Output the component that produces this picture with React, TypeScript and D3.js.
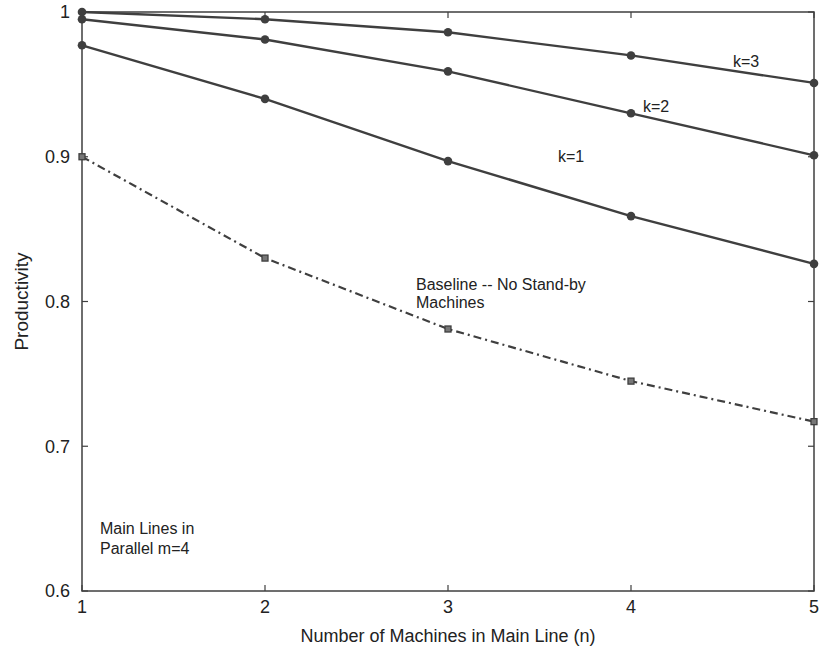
import React from 'react';
import * as d3 from 'd3';

// machines in main line
const machines = [1, 2, 3, 4, 5];

// productivity for k stand-by machines
const k1 = [0.977, 0.940, 0.897, 0.859, 0.826];
const k2 = [0.995, 0.981, 0.959, 0.930, 0.901];
const k3 = [1.0, 0.995, 0.986, 0.970, 0.951];
const baseline = [0.900, 0.830, 0.781, 0.745, 0.717];

const xTicks = [1, 2, 3, 4, 5];
const yTicks = [0.6, 0.7, 0.8, 0.9, 1];

const W = 821, H = 659;
const margin = { top: 12, right: 7, bottom: 68, left: 82 };
const ink = '#3f3f3f';
const font = '"Liberation Sans", Arial, Helvetica, sans-serif';

export default function App() {
  const x = d3.scaleLinear().domain([1, 5]).range([margin.left, W - margin.right]);
  const y = d3.scaleLinear().domain([0.6, 1]).range([H - margin.bottom, margin.top]);

  const line = d3.line<number>()
    .x((d, i) => x(machines[i]))
    .y(d => y(d));

  const solid = [k1, k2, k3];
  const x0 = x(1), x1 = x(5), y0 = y(0.6), y1 = y(1);
  const tk = 6;

  return (
    <svg width={W} height={H} style={{ position: 'absolute', left: 0, top: 0, background: '#fff' }}
      fontFamily={font}>
      {/* frame */}
      <rect x={x0} y={y1} width={x1 - x0} height={y0 - y1} fill="none" stroke={ink} strokeWidth={1.5} />

      {/* ticks */}
      {xTicks.map(t => (
        <g key={'x' + t}>
          <line x1={x(t)} x2={x(t)} y1={y0} y2={y0 - tk} stroke={ink} strokeWidth={1.2} />
          <line x1={x(t)} x2={x(t)} y1={y1} y2={y1 + tk} stroke={ink} strokeWidth={1.2} />
          <text x={x(t)} y={y0 + 22} textAnchor="middle" fontSize={18} fill="#222">{t}</text>
        </g>
      ))}
      {yTicks.map(t => (
        <g key={'y' + t}>
          <line x1={x0} x2={x0 + tk} y1={y(t)} y2={y(t)} stroke={ink} strokeWidth={1.2} />
          <line x1={x1} x2={x1 - tk} y1={y(t)} y2={y(t)} stroke={ink} strokeWidth={1.2} />
          <text x={x0 - 12} y={y(t)} dy="0.35em" textAnchor="end" fontSize={18} fill="#222">{t}</text>
        </g>
      ))}

      {/* axis titles */}
      <text x={(x0 + x1) / 2} y={642} textAnchor="middle" fontSize={18} fill="#222">
        Number of Machines in Main Line (n)
      </text>
      <text transform={`translate(28, ${(y0 + y1) / 2}) rotate(-90)`} textAnchor="middle" fontSize={19} fill="#222">
        Productivity
      </text>

      {/* stand-by curves */}
      {solid.map((s, i) => (
        <g key={'s' + i}>
          <path d={line(s) || ''} fill="none" stroke={ink} strokeWidth={2.4} />
          {s.map((v, j) => (
            <circle key={j} cx={x(machines[j])} cy={y(v)} r={4.3} fill={ink} />
          ))}
        </g>
      ))}

      {/* baseline */}
      <path d={line(baseline) || ''} fill="none" stroke={ink} strokeWidth={2.2}
        strokeDasharray="8 4 2 4" />
      {baseline.map((v, j) => (
        <rect key={'b' + j} x={x(machines[j]) - 3} y={y(v) - 3} width={6} height={6}
          fill="#777" stroke={ink} strokeWidth={1.3} />
      ))}

      {/* annotations */}
      <g fontSize={16} fill="#222">
        <text x={733} y={67}>k=3</text>
        <text x={643} y={112}>k=2</text>
        <text x={558} y={162}>k=1</text>
        <text x={416} y={290}>Baseline -- No Stand-by</text>
        <text x={416} y={308}>Machines</text>
        <text x={100} y={534}>Main Lines in</text>
        <text x={100} y={554}>Parallel m=4</text>
      </g>
    </svg>
  );
}
